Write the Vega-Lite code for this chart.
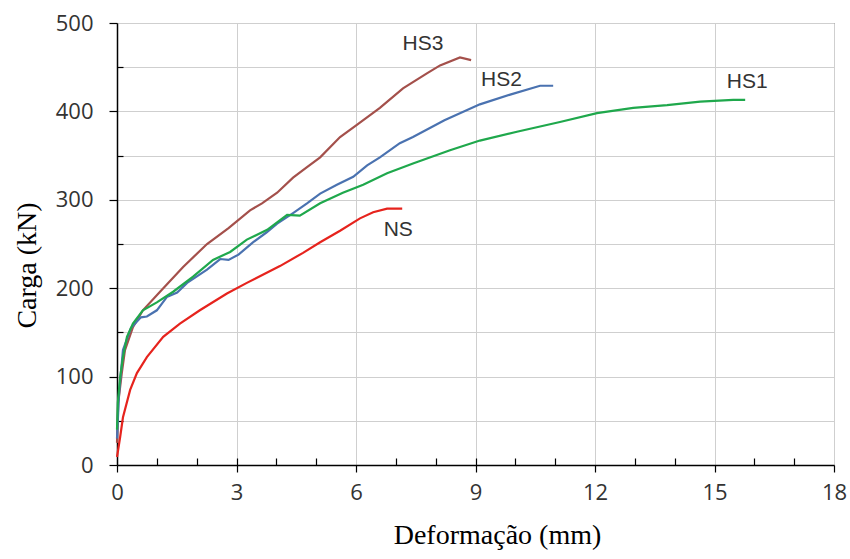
{
  "$schema": "https://vega.github.io/schema/vega-lite/v6.json",
  "width": 717,
  "height": 442,
  "autosize": "none",
  "padding": {"left": 117, "top": 23, "right": 16, "bottom": 94},
  "background": "white",
  "config": {
    "view": {"stroke": "#444", "strokeWidth": 1}
  },
  "datasets": {
    "curves": [
      {"serie": "HS3", "d": 0, "carga": 25},
      {"serie": "HS3", "d": 0.03, "carga": 70},
      {"serie": "HS3", "d": 0.12, "carga": 104},
      {"serie": "HS3", "d": 0.2, "carga": 130},
      {"serie": "HS3", "d": 0.4, "carga": 156},
      {"serie": "HS3", "d": 0.65, "carga": 175},
      {"serie": "HS3", "d": 1.08, "carga": 196},
      {"serie": "HS3", "d": 1.66, "carga": 224},
      {"serie": "HS3", "d": 2.26, "carga": 250},
      {"serie": "HS3", "d": 2.8, "carga": 268},
      {"serie": "HS3", "d": 3.34, "carga": 288},
      {"serie": "HS3", "d": 3.64, "carga": 296},
      {"serie": "HS3", "d": 4.02, "carga": 308},
      {"serie": "HS3", "d": 4.42, "carga": 325},
      {"serie": "HS3", "d": 4.77, "carga": 337},
      {"serie": "HS3", "d": 5.1, "carga": 348},
      {"serie": "HS3", "d": 5.6, "carga": 371},
      {"serie": "HS3", "d": 6.03, "carga": 385},
      {"serie": "HS3", "d": 6.6, "carga": 404},
      {"serie": "HS3", "d": 7.18, "carga": 426},
      {"serie": "HS3", "d": 7.78, "carga": 443},
      {"serie": "HS3", "d": 8.11, "carga": 452},
      {"serie": "HS3", "d": 8.61, "carga": 461},
      {"serie": "HS3", "d": 8.89, "carga": 458},

      {"serie": "HS2", "d": 0, "carga": 30},
      {"serie": "HS2", "d": 0.05, "carga": 80},
      {"serie": "HS2", "d": 0.15, "carga": 130},
      {"serie": "HS2", "d": 0.35, "carga": 155},
      {"serie": "HS2", "d": 0.6, "carga": 167},
      {"serie": "HS2", "d": 0.75, "carga": 168},
      {"serie": "HS2", "d": 1.0, "carga": 175},
      {"serie": "HS2", "d": 1.25, "carga": 190},
      {"serie": "HS2", "d": 1.51, "carga": 195},
      {"serie": "HS2", "d": 1.76, "carga": 206},
      {"serie": "HS2", "d": 2.26, "carga": 221},
      {"serie": "HS2", "d": 2.59, "carga": 233},
      {"serie": "HS2", "d": 2.8, "carga": 232},
      {"serie": "HS2", "d": 3.05, "carga": 238},
      {"serie": "HS2", "d": 3.42, "carga": 252},
      {"serie": "HS2", "d": 3.75, "carga": 263},
      {"serie": "HS2", "d": 4.02, "carga": 273},
      {"serie": "HS2", "d": 4.42, "carga": 285},
      {"serie": "HS2", "d": 4.77, "carga": 296},
      {"serie": "HS2", "d": 5.1, "carga": 307},
      {"serie": "HS2", "d": 5.52, "carga": 317},
      {"serie": "HS2", "d": 5.93, "carga": 326},
      {"serie": "HS2", "d": 6.28, "carga": 339},
      {"serie": "HS2", "d": 6.6, "carga": 348},
      {"serie": "HS2", "d": 7.1, "carga": 364},
      {"serie": "HS2", "d": 7.43, "carga": 371},
      {"serie": "HS2", "d": 8.22, "carga": 390},
      {"serie": "HS2", "d": 9.11, "carga": 408},
      {"serie": "HS2", "d": 9.87, "carga": 419},
      {"serie": "HS2", "d": 10.62, "carga": 429},
      {"serie": "HS2", "d": 10.95, "carga": 429},

      {"serie": "HS1", "d": 0, "carga": 40},
      {"serie": "HS1", "d": 0.02, "carga": 70},
      {"serie": "HS1", "d": 0.08, "carga": 100},
      {"serie": "HS1", "d": 0.15, "carga": 122},
      {"serie": "HS1", "d": 0.25, "carga": 145},
      {"serie": "HS1", "d": 0.4, "carga": 160},
      {"serie": "HS1", "d": 0.65, "carga": 175},
      {"serie": "HS1", "d": 1.0, "carga": 184},
      {"serie": "HS1", "d": 1.41, "carga": 196},
      {"serie": "HS1", "d": 1.91, "carga": 213},
      {"serie": "HS1", "d": 2.41, "carga": 232},
      {"serie": "HS1", "d": 2.84, "carga": 241},
      {"serie": "HS1", "d": 3.26, "carga": 255},
      {"serie": "HS1", "d": 3.77, "carga": 266},
      {"serie": "HS1", "d": 4.27, "carga": 283},
      {"serie": "HS1", "d": 4.59, "carga": 282},
      {"serie": "HS1", "d": 5.1, "carga": 296},
      {"serie": "HS1", "d": 5.67, "carga": 308},
      {"serie": "HS1", "d": 6.18, "carga": 317},
      {"serie": "HS1", "d": 6.78, "carga": 330},
      {"serie": "HS1", "d": 7.43, "carga": 341},
      {"serie": "HS1", "d": 8.36, "carga": 356},
      {"serie": "HS1", "d": 9.11, "carga": 367},
      {"serie": "HS1", "d": 10.04, "carga": 377},
      {"serie": "HS1", "d": 11.12, "carga": 388},
      {"serie": "HS1", "d": 12.05, "carga": 398},
      {"serie": "HS1", "d": 12.96, "carga": 404},
      {"serie": "HS1", "d": 13.81, "carga": 407},
      {"serie": "HS1", "d": 14.64, "carga": 411},
      {"serie": "HS1", "d": 15.47, "carga": 413},
      {"serie": "HS1", "d": 15.77, "carga": 413},

      {"serie": "NS", "d": 0, "carga": 9},
      {"serie": "NS", "d": 0.08, "carga": 32},
      {"serie": "NS", "d": 0.15, "carga": 54},
      {"serie": "NS", "d": 0.33, "carga": 85},
      {"serie": "NS", "d": 0.5, "carga": 104},
      {"serie": "NS", "d": 0.75, "carga": 122},
      {"serie": "NS", "d": 1.16, "carga": 145},
      {"serie": "NS", "d": 1.58, "carga": 160},
      {"serie": "NS", "d": 2.08, "carga": 175},
      {"serie": "NS", "d": 2.76, "carga": 194},
      {"serie": "NS", "d": 3.26, "carga": 206},
      {"serie": "NS", "d": 4.09, "carga": 225},
      {"serie": "NS", "d": 4.67, "carga": 240},
      {"serie": "NS", "d": 5.1, "carga": 252},
      {"serie": "NS", "d": 5.6, "carga": 265},
      {"serie": "NS", "d": 6.1, "carga": 279},
      {"serie": "NS", "d": 6.43, "carga": 286},
      {"serie": "NS", "d": 6.78, "carga": 290},
      {"serie": "NS", "d": 7.16, "carga": 290}
    ],
    "labels": [
      {"serie": "HS3", "d": 7.68, "carga": 476},
      {"serie": "HS2", "d": 9.65, "carga": 435},
      {"serie": "HS1", "d": 15.82, "carga": 433},
      {"serie": "NS", "d": 7.06, "carga": 266}
    ]
  },
  "resolve": {"scale": {"x": "shared", "y": "shared"}, "axis": {"x": "independent", "y": "independent"}},
  "layer": [
    {
      "data": {"name": "curves"},
      "mark": {"type": "line", "strokeWidth": 2.2},
      "encoding": {
        "x": {"field": "d", "type": "quantitative",
              "scale": {"domain": [0, 18], "nice": false, "zero": false},
              "axis": {"orient": "bottom", "title": "Deformação (mm)", "values": [0, 3, 6, 9, 12, 15, 18], "grid": true,
                       "gridColor": "#cfcfcf", "domainColor": "#000", "domainWidth": 1.5, "tickColor": "#000", "tickWidth": 1.2,
                       "labelFont": "Open Sans", "labelFontSize": 22, "labelColor": "#333",
                       "titleFont": "Liberation Serif", "titleFontSize": 28, "titleFontWeight": "normal", "titleColor": "#000",
                       "titleX": 380, "titleY": 78, "titleBaseline": "alphabetic", "titleAlign": "center",
                       "tickSize": 7, "labelPadding": 10, "labelFlush": false}},
        "y": {"field": "carga", "type": "quantitative",
              "scale": {"domain": [0, 500], "nice": false},
              "axis": {"orient": "left", "title": "Carga (kN)", "values": [0, 100, 200, 300, 400, 500], "grid": true,
                       "gridColor": "#cfcfcf", "domainColor": "#000", "domainWidth": 1.5, "tickColor": "#000", "tickWidth": 1.2,
                       "labelFont": "Open Sans", "labelFontSize": 22, "labelColor": "#333",
                       "titleFont": "Liberation Serif", "titleFontSize": 28, "titleFontWeight": "normal", "titleColor": "#000",
                       "titleAngle": 270, "titleX": -82, "titleY": 242, "titleBaseline": "alphabetic", "titleAlign": "center",
                       "tickSize": 8, "labelPadding": 16}},
        "color": {"field": "serie", "type": "nominal",
                  "scale": {"domain": ["HS1", "HS2", "HS3", "NS"], "range": ["#1fa84c", "#4a72b0", "#a4504b", "#e6231d"]},
                  "legend": null}
      }
    },
    {
      "data": {"name": "labels"},
      "mark": {"type": "text", "font": "Liberation Sans", "fontSize": 21, "color": "#333", "align": "center", "baseline": "middle"},
      "encoding": {
        "x": {"field": "d", "type": "quantitative",
              "axis": {"orient": "bottom", "values": [1, 2, 3, 4, 5, 7, 8, 9, 10, 11, 13, 14, 16, 17], "grid": false, "domain": false,
                       "labels": false, "title": null, "tickColor": "#000", "tickWidth": 1.2, "tickSize": -7}},
        "y": {"field": "carga", "type": "quantitative",
              "axis": {"orient": "left", "values": [50, 150, 250, 350, 450], "grid": true, "gridColor": "#cfcfcf", "domain": false,
                       "labels": false, "title": null, "tickColor": "#000", "tickWidth": 1.2, "tickSize": -6}},
        "text": {"field": "serie"}
      }
    }
  ]
}
